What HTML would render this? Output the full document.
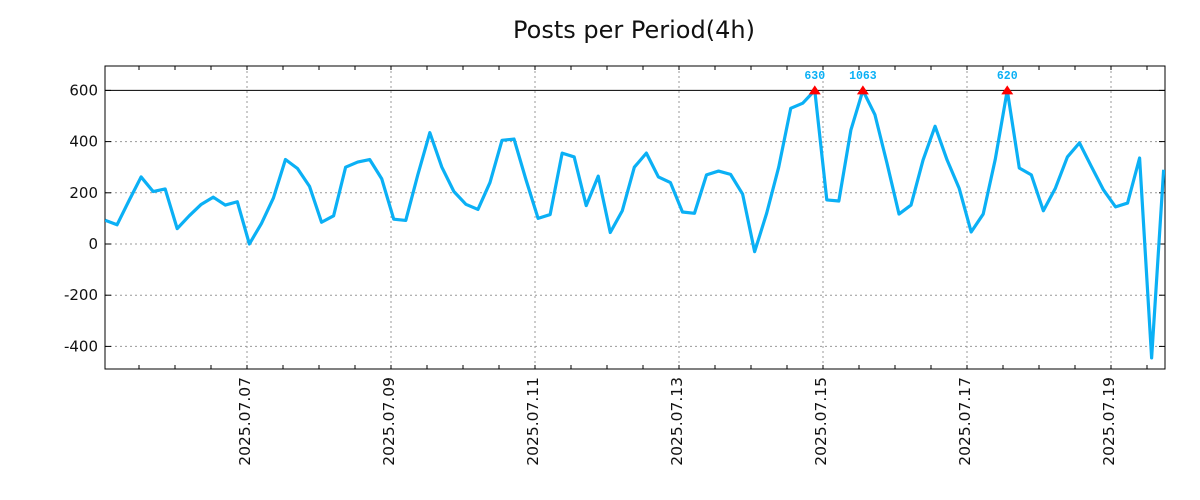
<!DOCTYPE html>
<html><head><meta charset="utf-8"><style>
body{margin:0;background:#fff;}
svg{display:block;font-family:"DejaVu Sans","Liberation Sans",sans-serif;}
</style></head><body>
<svg id="chart" width="1200" height="500">
<text x="634" y="38" text-anchor="middle" font-size="24" fill="#111">Posts per Period(4h)</text>
<g id="grid"></g><g id="axes"></g><g id="series"></g><g id="marks"></g>
</svg>
<script>
const values=[93,75,170,262,205,215,60,110,155,183,152,165,0,80,180,330,295,225,85,110,300,320,330,255,97,92,270,435,300,205,155,135,240,405,410,250,100,115,355,340,150,265,45,130,300,355,262,240,125,120,270,285,272,195,-30,120,300,530,550,630,172,168,445,1063,505,316,117,152,328,460,328,218,47,117,330,620,297,270,130,218,340,395,302,211,145,160,336,-445,290];
const yTicks=[-400,-200,0,200,400,600];
const dateLabels=["2025.07.07","2025.07.09","2025.07.11","2025.07.13","2025.07.15","2025.07.17","2025.07.19"];
const dateHours=[48,96,144,192,240,288,336];
const startHour=0.67, stepHours=4.01, capValue=600;
const L=105,R=1165,T=66,B=369;
const x=h=>103+h*3.0;
const y=v=>244-v*0.256;
const NS="http://www.w3.org/2000/svg";
function mk(tag,attrs,parent){const e=document.createElementNS(NS,tag);for(const k in attrs)e.setAttribute(k,attrs[k]);parent.appendChild(e);return e;}
const grid=document.getElementById('grid'),axes=document.getElementById('axes'),series=document.getElementById('series'),marks=document.getElementById('marks');
yTicks.forEach(v=>{
  const solid=v===600;
  const g=mk('line',{x1:L,x2:R,y1:y(v),y2:y(v),stroke:solid?'#000':'#999','stroke-width':1,'stroke-dasharray':solid?'':'2,3'},grid);
  
  
  const t=mk('text',{x:98,y:y(v)+5,'text-anchor':'end','font-size':15,fill:'#111'},axes);
  t.textContent=v;
  
  
  mk('line',{x1:L,x2:L+6,y1:y(v),y2:y(v),stroke:'#000'},axes);
  mk('line',{x1:R,x2:R-6,y1:y(v),y2:y(v),stroke:'#000'},axes);
});
for(let h=12;h<=365;h+=12){const xx=x(h);if(xx<L||xx>R)continue;
  mk('line',{x1:xx,x2:xx,y1:T,y2:T+4,stroke:'#000'},axes);
  mk('line',{x1:xx,x2:xx,y1:B,y2:B-4,stroke:'#000'},axes);}
dateHours.forEach((h,i)=>{
  const xx=x(h);
  const g=mk('line',{x1:xx,x2:xx,y1:T,y2:B,stroke:'#999','stroke-dasharray':'2,3'},grid);
  
  
  const t=mk('text',{x:0,y:0,'text-anchor':'end','font-size':15.5,fill:'#111',transform:`translate(${xx+3},377) rotate(-90)`},axes);
  t.textContent=dateLabels[i];
  
  
});
const frame=mk('rect',{x:L,y:T,width:R-L,height:B-T,fill:'none',stroke:'#000'},axes);


const pts=values.map((v,i)=>[x(startHour+i*stepHours),y(Math.min(v,capValue))]);
const cp=mk('clipPath',{id:'clip'},series);
mk('rect',{x:L,y:T,width:R-L,height:B-T},cp);
const line=mk('polyline',{points:pts.map(p=>p.join(',')).join(' '),fill:'none',stroke:'#0bb0f5','stroke-width':3.2,'stroke-linejoin':'round','clip-path':'url(#clip)'},series);


values.forEach((v,i)=>{if(v<=capValue)return;
  const px=pts[i][0],py=y(capValue);
  const tri=mk('polygon',{points:`${px-6},${py+4} ${px+6},${py+4} ${px},${py-5}`,fill:'#f00'},marks);
  
  
  const t=mk('text',{x:px,y:79,'text-anchor':'middle','font-size':11.5,'font-weight':'bold',fill:'#0bb0f5','font-family':'"Liberation Mono",monospace'},marks);
  t.textContent=v;
  
  
});
</script>
</body></html>
